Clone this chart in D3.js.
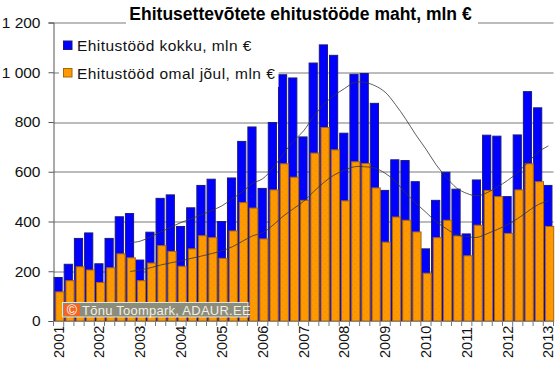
<!DOCTYPE html>
<html>
<head>
<meta charset="utf-8">
<script src="https://cdn.jsdelivr.net/npm/d3@7"></script>
<style>
  html, body { margin: 0; padding: 0; background: #fff; }
  svg { display: block; font-family: "Liberation Sans", Arial, sans-serif; }
</style>
</head>
<body>
<svg id="chart" width="560" height="366"></svg>
<script>
var title = 'Ehitusettevõtete ehitustööde maht, mln €';
var series_names = ['Ehitustööd kokku, mln €', 'Ehitustööd omal jõul, mln €'];
var watermark = 'Tõnu Toompark, ADAUR.EE';

var quarters = [];
d3.range(2001, 2014).forEach(y => {
  ['K1', 'K2', 'K3', 'K4'].forEach(q => quarters.push(y + q));
});
quarters = quarters.slice(0, 49);

var y_ticks = [0, 200, 400, 600, 800, 1000, 1200];

var total = [175, 228, 332, 354, 230, 332, 419, 432, 245, 357, 493, 507, 380, 455, 545, 570,
  400, 575, 722, 780, 533, 798, 990, 977, 740, 1037, 1110, 1068, 755, 992, 995, 875,
  525, 648, 645, 560, 290, 485, 598, 530, 350, 567, 747, 743, 500, 748, 922, 857, 545];

var own = [117, 162, 218, 205, 155, 214, 270, 254, 162, 233, 303, 280, 220, 290, 343, 335,
  252, 362, 476, 454, 330, 527, 632, 578, 485, 675, 778, 688, 483, 640, 633, 535,
  317, 418, 405, 358, 192, 335, 405, 342, 262, 385, 525, 500, 352, 527, 632, 560, 380];

// trend lines start at the 8th quarter
var trend_start = 7;
var total_trend = [315, 321, 338, 358, 377, 396, 411, 427, 444, 463, 491, 519, 553, 572, 615, 671,
  722, 764, 822, 871, 907, 934, 959, 959, 946, 920, 871, 813, 749, 691, 628, 578,
  535, 513, 503, 516, 539, 565, 598, 638, 679, 704];
var own_trend = [199, 205, 214, 225, 234, 242, 252, 261, 271, 282, 298, 320, 342, 355, 385, 421,
  451, 481, 520, 557, 587, 606, 620, 620, 615, 594, 562, 515, 474, 437, 399, 371,
  347, 340, 336, 351, 368, 388, 412, 441, 468, 483];

var margin = {top: 22.5, right: 6.5, bottom: 45, left: 53.5};
var width = 560 - margin.left - margin.right;
var height = 366 - margin.top - margin.bottom;

var svg = d3.select('#chart');

var defs = svg.append('defs');
var dots = defs.append('pattern')
  .attr('id', 'orange-dots')
  .attr('width', 6).attr('height', 6)
  .attr('patternUnits', 'userSpaceOnUse');
dots.append('rect').attr('width', 6).attr('height', 6).attr('fill', '#ff9900');
dots.append('rect').attr('x', 1).attr('y', 1).attr('width', 1).attr('height', 1).attr('fill', '#e08a10');
dots.append('rect').attr('x', 4).attr('y', 4).attr('width', 1).attr('height', 1).attr('fill', '#e08a10');

var g = svg.append('g')
  .attr('transform', 'translate(' + margin.left + ',' + margin.top + ')');

var x = d3.scaleBand().domain(quarters).range([0, width]);
var y = d3.scaleLinear().domain([0, 1200]).range([height, 0]);

var bar_w = x.bandwidth() * 0.8;
var bar_shift = x.bandwidth() * 0.17;

// gridlines
g.selectAll('.grid')
  .data(y_ticks.slice(1))
  .enter()
  .append('line')
  .attr('class', 'grid')
  .attr('x1', 0)
  .attr('x2', width)
  .attr('y1', d => Math.round(y(d)) + 0.5)
  .attr('y2', d => Math.round(y(d)) + 0.5)
  .attr('stroke', '#a6a6a6')
  .attr('stroke-width', 1.4);

// blue bars
g.selectAll('.total')
  .data(total)
  .enter()
  .append('rect')
  .attr('class', 'total')
  .attr('x', (d, i) => x(quarters[i]) + 0.5)
  .attr('y', d => y(d))
  .attr('width', bar_w)
  .attr('height', d => height - y(d))
  .attr('fill', '#0000ff')
  .attr('stroke', '#1a1a80')
  .attr('stroke-width', 1);

// orange bars
g.selectAll('.own')
  .data(own)
  .enter()
  .append('rect')
  .attr('class', 'own')
  .attr('x', (d, i) => x(quarters[i]) + 0.5 + bar_shift)
  .attr('y', d => y(d))
  .attr('width', bar_w)
  .attr('height', d => height - y(d))
  .attr('fill', 'url(#orange-dots)')
  .attr('stroke', '#a8650a')
  .attr('stroke-width', 1);

// trend lines
var trend = d3.line()
  .x((d, i) => x(quarters[i + trend_start]) + x.bandwidth() / 2)
  .y(d => y(d))
  .curve(d3.curveCatmullRom);

[total_trend, own_trend].forEach(t => {
  g.append('path')
    .attr('d', trend(t))
    .attr('fill', 'none')
    .attr('stroke', '#333')
    .attr('stroke-width', 0.8);
});

// axes
var y_axis = g.append('g')
  .call(d3.axisLeft(y)
    .tickValues(y_ticks)
    .tickSize(5)
    .tickPadding(8)
    .tickFormat(d => d3.format(',')(d).replace(',', ' ')));
y_axis.selectAll('text')
  .attr('font-size', 15.5)
  .attr('font-family', '"Liberation Sans", Arial, sans-serif')
  .attr('fill', '#111');
y_axis.selectAll('line, path').attr('stroke', '#555');

var x_axis = g.append('g')
  .attr('transform', 'translate(0,' + height + ')')
  .call(d3.axisBottom(x)
    .tickValues([])
    .tickSizeOuter(0));
x_axis.select('path').attr('stroke', '#888');

// ticks sit between the quarters, one per band edge
x_axis.selectAll('.edge')
  .data(quarters.concat(['end']))
  .enter()
  .append('line')
  .attr('class', 'edge')
  .attr('x1', (d, i) => i * x.step())
  .attr('x2', (d, i) => i * x.step())
  .attr('y1', 0)
  .attr('y2', 5)
  .attr('stroke', '#777');

x_axis.selectAll('.year')
  .data(quarters.filter(q => q.endsWith('K1')))
  .enter()
  .append('text')
  .attr('class', 'year')
  .attr('transform', d => 'translate(' + (x(d) + x.bandwidth() / 2 + 5) + ',37) rotate(-90)')
  .attr('text-anchor', 'start')
  .attr('font-family', '"Liberation Sans", Arial, sans-serif')
  .attr('font-size', 14.5)
  .attr('fill', '#111')
  .text(d => d.slice(0, 4));

// legend box hides the grid behind it
svg.append('rect')
  .attr('x', 59).attr('y', 30)
  .attr('width', 219.5).attr('height', 57)
  .attr('fill', '#fff');

var legend_y = [45.5, 73];
var legend_fill = ['#0000ff', '#ff9900'];
var legend_stroke = ['#1a1a80', '#a8650a'];
series_names.forEach((name, i) => {
  svg.append('rect')
    .attr('x', 63.5).attr('y', legend_y[i] - 4.5)
    .attr('width', 8.5).attr('height', 8.5)
    .attr('fill', legend_fill[i])
    .attr('stroke', legend_stroke[i]);
  svg.append('text')
    .attr('x', 77)
    .attr('y', legend_y[i] + 5.5)
    .attr('font-size', 15.5)
    .attr('letter-spacing', 0.45)
    .attr('fill', '#111')
    .text(name);
});

// title on a white strip, breaks the 1 200 gridline
svg.append('rect')
  .attr('x', 126).attr('y', 5)
  .attr('width', 352).attr('height', 20)
  .attr('fill', '#fff');
svg.append('text')
  .attr('x', 300.5)
  .attr('y', 20)
  .attr('text-anchor', 'middle')
  .attr('font-size', 17.5)
  .attr('font-weight', 'bold')
  .attr('fill', '#000')
  .text(title);

// copyright stamp
var stamp = svg.append('g').attr('transform', 'translate(62,302)');
stamp.append('rect')
  .attr('x', 0.5).attr('y', 0.5)
  .attr('width', 185.5).attr('height', 14.5)
  .attr('fill', '#8c8c7a')
  .attr('stroke', '#e4e4dc');
stamp.append('rect')
  .attr('x', 2).attr('y', 2)
  .attr('width', 16).attr('height', 12)
  .attr('fill', '#f26522');
stamp.append('text')
  .attr('x', 10).attr('y', 13)
  .attr('text-anchor', 'middle')
  .attr('font-size', 14)
  .attr('fill', '#fff')
  .text('©');
stamp.append('text')
  .attr('x', 20).attr('y', 12.5)
  .attr('font-size', 13)
  .attr('letter-spacing', 0.25)
  .attr('fill', '#f0f0e8')
  .text(watermark);
</script>
</body>
</html>
